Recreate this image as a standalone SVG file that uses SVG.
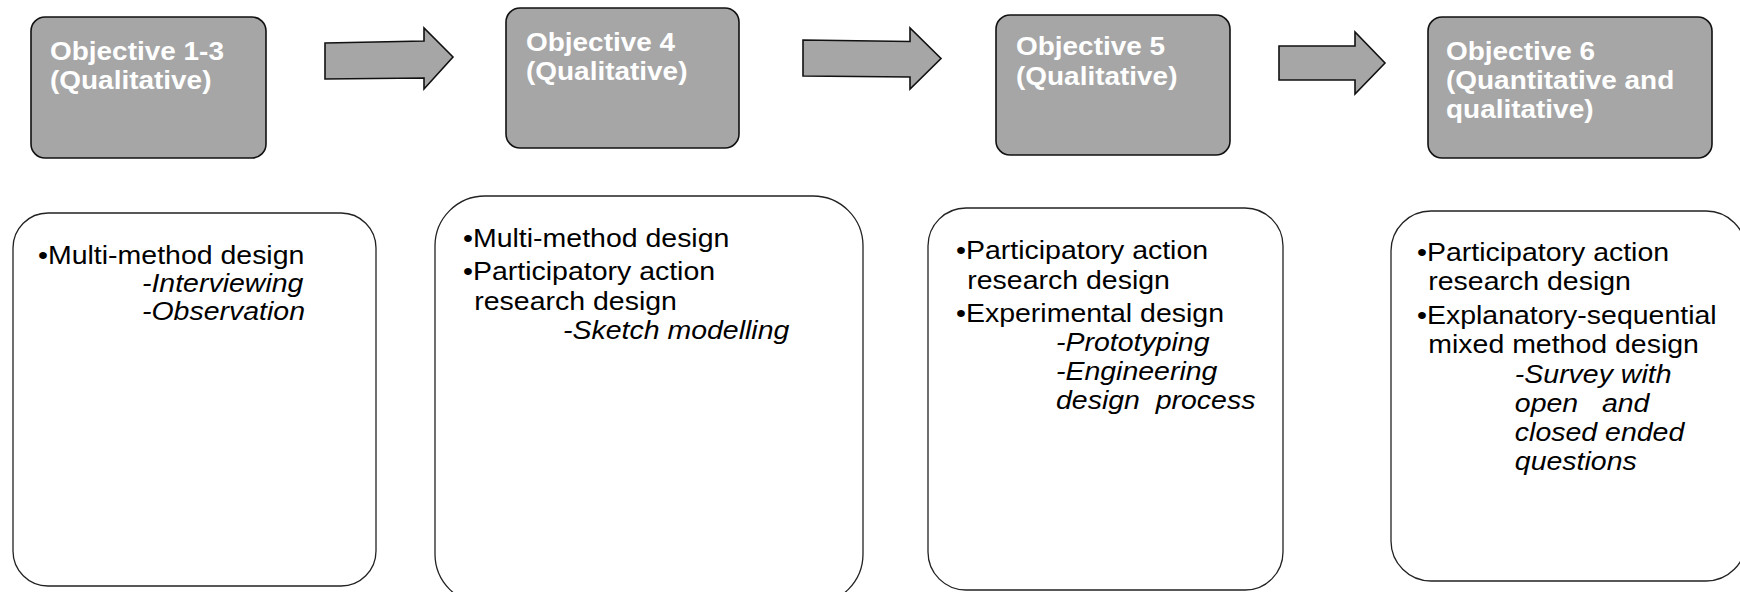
<svg xmlns="http://www.w3.org/2000/svg" width="1740" height="592" viewBox="0 0 1740 592">
<style>
.obj{fill:#a6a6a6;stroke:#111;stroke-width:1.6}
.card{fill:#fff;stroke:#222;stroke-width:1.3}
.arrow{fill:#a6a6a6;stroke:#111;stroke-width:1.6;stroke-linejoin:miter}
.ttl{font-family:"Liberation Sans",Arial,sans-serif;font-weight:bold;font-size:26px;fill:#fff}
.body{font-family:"Liberation Sans",Arial,sans-serif;font-size:26.5px;fill:#000;white-space:pre}
.it{font-style:italic}
</style>
<rect width="1740" height="592" fill="#fff"/>
<g id="connectors">
<polygon class="arrow" points="325,43 424,41 424,28 453,57 424,89 424,78 325,79"/>
<polygon class="arrow" points="803,40 910,41.5 910,28 941,58.5 910,89 910,77 803,76"/>
<polygon class="arrow" points="1279,46 1355,46 1355,32 1385,63 1355,94 1355,80 1279,80"/>
</g>
<g id="obj1">
<rect class="obj" x="31" y="17" width="235" height="141" rx="14"/>
<g transform="translate(50,0) scale(1.075,1)"><text class="ttl"><tspan x="0" y="60">Objective 1-3</tspan><tspan x="0" y="89">(Qualitative)</tspan></text></g>
</g>
<g id="obj4">
<rect class="obj" x="506" y="8" width="233" height="140" rx="14"/>
<g transform="translate(526,0) scale(1.075,1)"><text class="ttl"><tspan x="0" y="51">Objective 4</tspan><tspan x="0" y="80">(Qualitative)</tspan></text></g>
</g>
<g id="obj5">
<rect class="obj" x="996" y="15" width="234" height="140" rx="14"/>
<g transform="translate(1016,0) scale(1.075,1)"><text class="ttl"><tspan x="0" y="55">Objective 5</tspan><tspan x="0" y="85">(Qualitative)</tspan></text></g>
</g>
<g id="obj6">
<rect class="obj" x="1428" y="17" width="284" height="141" rx="14"/>
<g transform="translate(1446,0) scale(1.075,1)"><text class="ttl"><tspan x="0" y="60">Objective 6</tspan><tspan x="0" y="89">(Quantitative and</tspan><tspan x="0" y="118">qualitative)</tspan></text></g>
</g>
<g id="methods1">
<rect class="card" x="13" y="213" width="363" height="373" rx="35"/>
<g transform="translate(38,0) scale(1.075,1)"><text class="body"><tspan x="0" y="264">•Multi-method design</tspan><tspan class="it" x="96.7" y="292">-Interviewing</tspan><tspan class="it" x="96.7" y="320">-Observation</tspan></text></g>
</g>
<g id="methods4">
<rect class="card" x="435" y="196" width="428" height="408" rx="50"/>
<g transform="translate(463,0) scale(1.075,1)"><text class="body"><tspan x="0" y="247">•Multi-method design</tspan><tspan x="0" y="280">•Participatory action</tspan><tspan x="10.5" y="310">research design</tspan><tspan class="it" x="93" y="339">-Sketch modelling</tspan></text></g>
</g>
<g id="methods5">
<rect class="card" x="928" y="208" width="355" height="382" rx="38"/>
<g transform="translate(956,0) scale(1.075,1)"><text class="body"><tspan x="0" y="259">•Participatory action</tspan><tspan x="10.5" y="289">research design</tspan><tspan x="0" y="322">•Experimental design</tspan><tspan class="it" x="93" y="351">-Prototyping</tspan><tspan class="it" x="93" y="380">-Engineering</tspan><tspan class="it" x="93" y="409">design  process</tspan></text></g>
</g>
<g id="methods6">
<rect class="card" x="1391" y="211" width="355" height="370" rx="40"/>
<g transform="translate(1417,0) scale(1.075,1)"><text class="body"><tspan x="0" y="261">•Participatory action</tspan><tspan x="10.5" y="290">research design</tspan><tspan x="0" y="324">•Explanatory-sequential</tspan><tspan x="10.5" y="353">mixed method design</tspan><tspan class="it" x="91" y="383">-Survey with</tspan><tspan class="it" x="91" y="412">open   and</tspan><tspan class="it" x="91" y="441">closed ended</tspan><tspan class="it" x="91" y="470">questions</tspan></text></g>
</g>
</svg>
